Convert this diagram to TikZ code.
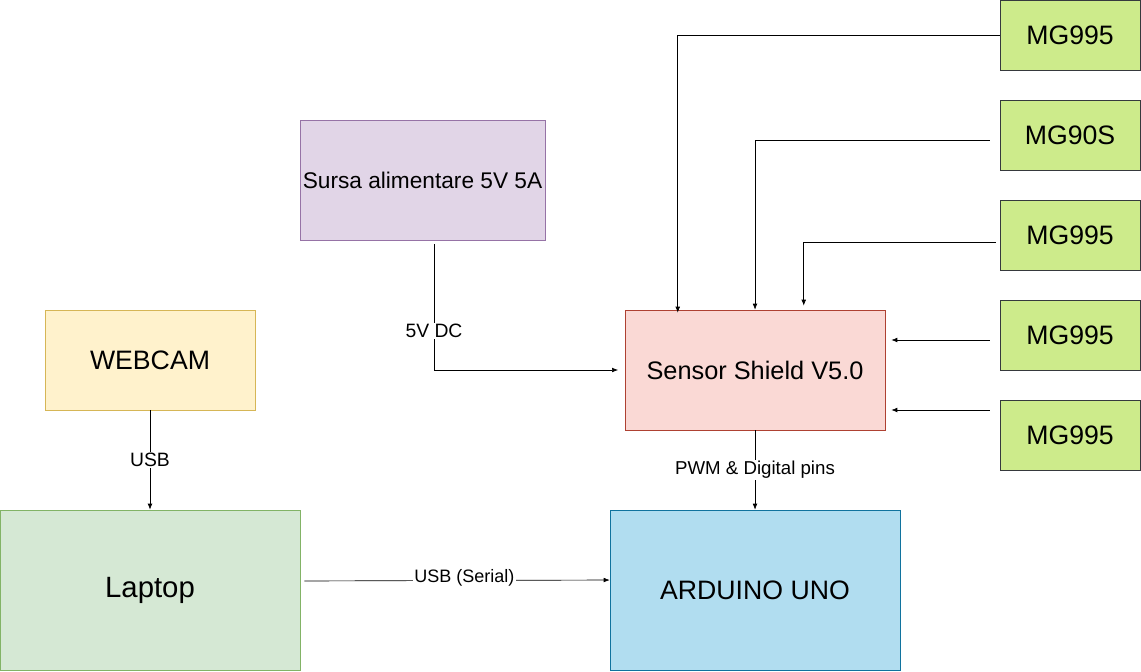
\documentclass[tikz,border=0pt]{standalone}
\usepackage{fontspec}
\setmainfont{Liberation Sans}
\usetikzlibrary{positioning,calc,arrows.meta}
\definecolor{servofill}{HTML}{CDEB8B}
\definecolor{servoline}{HTML}{36393D}
\definecolor{psufill}{HTML}{E1D5E7}
\definecolor{psuline}{HTML}{9673A6}
\definecolor{camfill}{HTML}{FFF2CC}
\definecolor{camline}{HTML}{D6B656}
\definecolor{shieldfill}{HTML}{FAD9D5}
\definecolor{shieldline}{HTML}{AE4132}
\definecolor{pcfill}{HTML}{D5E8D4}
\definecolor{pcline}{HTML}{82B366}
\definecolor{unofill}{HTML}{B1DDF0}
\definecolor{unoline}{HTML}{10739E}

\begin{document}
\begin{tikzpicture}[x=0.75pt, y=-0.75pt,
    box/.style={rectangle, draw, minimum width=#1, align=center, font=\fontsize{20}{24}\selectfont, inner sep=0pt},
    servo/.style={box=105pt, minimum height=52.5pt, fill=servofill, draw=servoline},
    arrow/.style={-{Latex[length=4.5pt,width=3.5pt]}, line width=0.5pt},
    lbl/.style={fill=white, inner sep=1pt, font=\fontsize{14.5}{17}\selectfont}
]
    \useasboundingbox (0,0) rectangle (1141,671);

    % servos
    \node[servo] (s1) at (1070,35) {MG995};
    \node[servo] (s2) at (1070,135) {MG90S};
    \node[servo] (s3) at (1070,235) {MG995};
    \node[servo] (s4) at (1070,335) {MG995};
    \node[servo] (s5) at (1070,435) {MG995};

    % main blocks
    \node[box=184pt, minimum height=90pt, fill=psufill, draw=psuline, font=\fontsize{17}{20}\selectfont] (psu) at (422.5,180) {Sursa alimentare 5V 5A};
    \node[box=157.5pt, minimum height=75pt, fill=camfill, draw=camline] (cam) at (150,360) {WEBCAM};
    \node[box=195pt, minimum height=90pt, fill=shieldfill, draw=shieldline, font=\fontsize{19}{23}\selectfont] (shield) at (755,370) {Sensor Shield V5.0};
    \node[box=225pt, minimum height=120pt, fill=pcfill, draw=pcline, font=\fontsize{22}{26}\selectfont] (laptop) at (150,590) {Laptop};
    \node[box=217.5pt, minimum height=120pt, fill=unofill, draw=unoline] (uno) at (755,590) {ARDUINO UNO};

    % servo wires
    \draw[arrow] (s1.west) -| ($(shield.north west)+(53,3)$);
    \draw[arrow, shorten <=7.5pt] ($(s2.west)+(0,5)$) -| (shield.north);
    \draw[arrow, shorten <=3pt] ($(s3.west)+(0,7)$) -| ($(shield.north west)+(179,-4)$);
    \draw[arrow, shorten <=7.5pt, shorten >=4.5pt] ($(s4.west)+(0,5)$) -- ($(s4.west -| shield.east)+(0,5)$);
    \draw[arrow, shorten <=7.5pt, shorten >=4.5pt] ($(s5.west)+(0,-25)$) -- ($(s5.west -| shield.east)+(0,-25)$);

    % power, usb, data
    \draw[arrow, shorten <=3pt, shorten >=5pt] (psu.south -| 434,0) |- node[lbl, pos=0.35] {5V DC} (shield.west);
    \draw[arrow] (cam) -- node[lbl] {USB} (laptop);
    \draw[arrow] (shield) -- node[lbl, font=\fontsize{14}{17}\selectfont] {PWM \& Digital pins} (uno);
    \draw[arrow, shorten <=3pt] ($(laptop.east)+(0,-9)$) -- node[lbl, font=\fontsize{13.5}{16}\selectfont, pos=0.53, yshift=2pt] {USB (Serial)} ($(uno.west)+(0,-10)$);
\end{tikzpicture}
\end{document}
